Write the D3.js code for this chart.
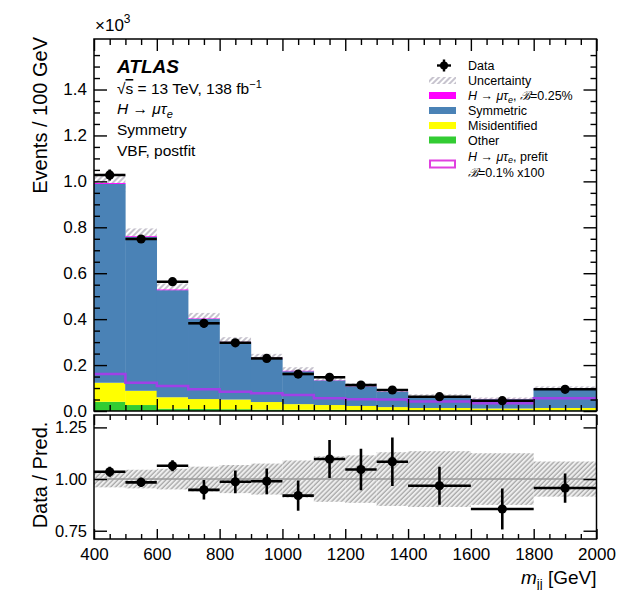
<!DOCTYPE html>
<html>
<head>
<meta charset="utf-8">
<script src="https://cdn.jsdelivr.net/npm/d3@7"></script>
<style>
  body { margin: 0; background: #fff; }
  svg { display: block; font-family: "Liberation Sans", Arial, Helvetica, sans-serif; }
</style>
</head>
<body>
<svg id="chart" width="630" height="590"></svg>
<script>
// m_jj binning (GeV); the last three bins are 200 GeV wide
const binEdges = [400, 500, 600, 700, 800, 900, 1000, 1100, 1200, 1300, 1400, 1600, 1800, 2000];

// Events / 100 GeV, in units of 10^3
const dataVal = [1.028, 0.749, 0.563, 0.382, 0.297, 0.229, 0.161, 0.147, 0.113, 0.0915, 0.0623, 0.0449, 0.0945];
const dataErr = [0.024, 0.0175, 0.0143, 0.019, 0.0166, 0.0144, 0.0128, 0.0123, 0.0108, 0.0099, 0.0059, 0.0052, 0.0070];

// Postfit background / signal stack (bottom to top)
const other      = [0.040, 0.026, 0.010, 0.009, 0.008, 0.006, 0.005, 0.005, 0.004, 0.004, 0.003, 0.003, 0.003];
const misid      = [0.083, 0.062, 0.050, 0.043, 0.042, 0.033, 0.025, 0.021, 0.018, 0.013, 0.010, 0.008, 0.010];
const symmetric  = [0.866, 0.670, 0.466, 0.349, 0.249, 0.1905, 0.143, 0.107, 0.085, 0.0664, 0.0504, 0.0405, 0.0848];
const signalPost = [0.004, 0.003, 0.003, 0.002, 0.002, 0.002, 0.002, 0.001, 0.001, 0.001, 0.001, 0.001, 0.001];

// Prefit signal, B = 0.1%, scaled by 100
const signalPrefit = [0.161, 0.123, 0.109, 0.0945, 0.084, 0.077, 0.070, 0.055, 0.051, 0.050, 0.041, 0.034, 0.055];

// Relative total uncertainty on the prediction
const relUnc = [0.040, 0.045, 0.050, 0.060, 0.068, 0.075, 0.090, 0.110, 0.115, 0.130, 0.135, 0.125, 0.085];

const xTickValues = [400, 600, 800, 1000, 1200, 1400, 1600, 1800, 2000];
const yMainTickValues = [0, 0.2, 0.4, 0.6, 0.8, 1.0, 1.2, 1.4];
const yRatioTickValues = [0.75, 1.0, 1.25];

const legendLabels = ["Data", "Uncertainty", "H → μτe, ℬ=0.25%", "Symmetric", "Misidentified", "Other", "H → μτe, prefit"];

const colors = { other: "#33cc33", misid: "#ffff00", symmetric: "#4a82b6", signal: "#ff00ff", prefit: "#a040e6" };

// ---------------------------------------------------------------
const svg = d3.select("#chart");
const L = 94, R = 596.5;
const mainTop = 39, mainBot = 411, ratTop = 415, ratBot = 539;

const x = d3.scaleLinear().domain([400, 2000]).range([L, R]);
const yM = d3.scaleLinear().domain([0, 1.62]).range([mainBot, mainTop]);
const yR = d3.scaleLinear().domain([0.71, 1.31]).range([ratBot, ratTop]);

const bins = dataVal.map((d, i) => {
  const pred = other[i] + misid[i] + symmetric[i] + signalPost[i];
  return {
    lo: binEdges[i], hi: binEdges[i + 1], mid: (binEdges[i] + binEdges[i + 1]) / 2,
    data: d, err: dataErr[i], pred, unc: relUnc[i],
    other: other[i], misid: misid[i], symmetric: symmetric[i], signal: signalPost[i]
  };
});

const defs = svg.append("defs");
defs.append("clipPath").attr("id", "clipMain").append("rect")
  .attr("x", L).attr("y", mainTop).attr("width", R - L).attr("height", mainBot - mainTop);
defs.append("clipPath").attr("id", "clipRatio").append("rect")
  .attr("x", L).attr("y", ratTop).attr("width", R - L).attr("height", ratBot - ratTop);

const hatchMain = defs.append("pattern").attr("id", "hatchMain")
  .attr("patternUnits", "userSpaceOnUse").attr("width", 4).attr("height", 4)
  .attr("patternTransform", "rotate(45)");
hatchMain.append("rect").attr("width", 4).attr("height", 4).attr("fill", "#fff");
hatchMain.append("line").attr("x1", 1).attr("y1", 0).attr("x2", 1).attr("y2", 4)
  .attr("stroke", "#a9a4b4").attr("stroke-width", 1.3);

const hatchRatio = defs.append("pattern").attr("id", "hatchRatio")
  .attr("patternUnits", "userSpaceOnUse").attr("width", 3.4).attr("height", 3.4)
  .attr("patternTransform", "rotate(45)");
hatchRatio.append("rect").attr("width", 3.4).attr("height", 3.4).attr("fill", "#eeeeee");
hatchRatio.append("line").attr("x1", 1).attr("y1", 0).attr("x2", 1).attr("y2", 3.4)
  .attr("stroke", "#9a9a9a").attr("stroke-width", 1.1);

// ---------------- main panel ----------------
const gMain = svg.append("g").attr("clip-path", "url(#clipMain)");

// uncertainty band (the stack covers its lower half)
gMain.selectAll("rect.band").data(bins).join("rect").attr("class", "band")
  .attr("x", d => x(d.lo)).attr("width", d => x(d.hi) - x(d.lo))
  .attr("y", d => yM(d.pred * (1 + d.unc)))
  .attr("height", d => yM(d.pred * (1 - d.unc)) - yM(d.pred * (1 + d.unc)))
  .attr("fill", "url(#hatchMain)");

const keys = ["other", "misid", "symmetric", "signal"];
const stacked = d3.stack().keys(keys)(bins);
gMain.selectAll("g.layer").data(stacked).join("g").attr("class", "layer")
  .attr("fill", s => colors[s.key])
  .selectAll("rect").data(s => s).join("rect")
  .attr("x", d => x(d.data.lo) - 0.2).attr("width", d => x(d.data.hi) - x(d.data.lo) + 0.4)
  .attr("y", d => yM(d[1])).attr("height", d => Math.max(0, yM(d[0]) - yM(d[1])));

// prefit signal x100 as an outline histogram
const prefitPts = signalPrefit.map((v, i) => [binEdges[i], v]);
prefitPts.push([binEdges[binEdges.length - 1], signalPrefit[signalPrefit.length - 1]]);
gMain.append("path").datum(prefitPts)
  .attr("d", d3.line().x(d => x(d[0])).y(d => yM(d[1])).curve(d3.curveStepAfter))
  .attr("fill", "none").attr("stroke", colors.prefit).attr("stroke-width", 2.5);

function drawPoints(g, yScale, valueOf, errOf) {
  const pts = g.append("g");
  pts.selectAll("line.h").data(bins).join("line").attr("class", "h")
    .attr("x1", d => x(d.lo)).attr("x2", d => x(d.hi))
    .attr("y1", d => yScale(valueOf(d))).attr("y2", d => yScale(valueOf(d)))
    .attr("stroke", "#000").attr("stroke-width", 2.6);
  pts.selectAll("line.v").data(bins).join("line").attr("class", "v")
    .attr("x1", d => x(d.mid)).attr("x2", d => x(d.mid))
    .attr("y1", d => yScale(valueOf(d) + errOf(d))).attr("y2", d => yScale(valueOf(d) - errOf(d)))
    .attr("stroke", "#000").attr("stroke-width", 2.6);
  pts.selectAll("circle").data(bins).join("circle")
    .attr("cx", d => x(d.mid)).attr("cy", d => yScale(valueOf(d))).attr("r", 4.6).attr("fill", "#000");
}
drawPoints(gMain, yM, d => d.data, d => d.err);

// ---------------- ratio panel ----------------
const gRat = svg.append("g").attr("clip-path", "url(#clipRatio)");
gRat.selectAll("rect.band").data(bins).join("rect").attr("class", "band")
  .attr("x", d => x(d.lo)).attr("width", d => x(d.hi) - x(d.lo))
  .attr("y", d => yR(1 + d.unc)).attr("height", d => yR(1 - d.unc) - yR(1 + d.unc))
  .attr("fill", "url(#hatchRatio)");
gRat.append("line").attr("x1", L).attr("x2", R).attr("y1", yR(1)).attr("y2", yR(1))
  .attr("stroke", "#999").attr("stroke-width", 1.6);
drawPoints(gRat, yR, d => d.data / d.pred, d => d.err / d.pred);

// ---------------- frames and axes ----------------
function frame(t, b) {
  svg.append("rect").attr("x", L).attr("y", t).attr("width", R - L).attr("height", b - t)
    .attr("fill", "none").attr("stroke", "#000").attr("stroke-width", 1.5);
}
frame(mainTop, mainBot);
frame(ratTop, ratBot);

const minorX = d3.range(400, 2001, 50).filter(v => v % 200 !== 0);
const minorYMain = d3.range(0, 32).map(i => i * 0.05).filter(v => v < 1.62 && Math.abs(v / 0.2 - Math.round(v / 0.2)) > 1e-6);

function styleAxis(g, fontSize) {
  g.select(".domain").remove();
  g.selectAll(".tick line").attr("stroke", "#000").attr("stroke-width", 1.4);
  g.selectAll(".tick text").attr("fill", "#000").attr("font-size", fontSize)
    .attr("font-family", "'Liberation Sans', Arial, sans-serif");
}
function addAxis(axis, tx, ty, fontSize) {
  const g = svg.append("g").attr("transform", `translate(${tx},${ty})`).call(axis);
  styleAxis(g, fontSize || 17);
  return g;
}

// main panel x ticks (bottom and top, no labels)
addAxis(d3.axisBottom(x).tickValues(xTickValues).tickSize(-12).tickFormat(""), 0, mainBot);
addAxis(d3.axisBottom(x).tickValues(minorX).tickSize(-6).tickFormat(""), 0, mainBot);
addAxis(d3.axisTop(x).tickValues(xTickValues).tickSize(-12).tickFormat(""), 0, mainTop);
addAxis(d3.axisTop(x).tickValues(minorX).tickSize(-6).tickFormat(""), 0, mainTop);
// main panel y ticks
addAxis(d3.axisLeft(yM).tickValues(yMainTickValues).tickSize(-13).tickPadding(7).tickFormat(d3.format(".1f")), L, 0);
addAxis(d3.axisLeft(yM).tickValues(minorYMain).tickSize(-6).tickFormat(""), L, 0);
addAxis(d3.axisRight(yM).tickValues(yMainTickValues).tickSize(-13).tickFormat(""), R, 0);
addAxis(d3.axisRight(yM).tickValues(minorYMain).tickSize(-6).tickFormat(""), R, 0);

// ratio panel ticks
addAxis(d3.axisBottom(x).tickValues(xTickValues).tickSize(-10).tickPadding(9).tickFormat(d3.format("d")), 0, ratBot);
addAxis(d3.axisBottom(x).tickValues(minorX).tickSize(-5).tickFormat(""), 0, ratBot);
addAxis(d3.axisTop(x).tickValues(xTickValues).tickSize(-10).tickFormat(""), 0, ratTop);
addAxis(d3.axisTop(x).tickValues(minorX).tickSize(-5).tickFormat(""), 0, ratTop);
addAxis(d3.axisLeft(yR).tickValues(yRatioTickValues).tickSize(-13).tickPadding(7).tickFormat(d3.format(".2f")), L, 0, 16.5);
addAxis(d3.axisRight(yR).tickValues(yRatioTickValues).tickSize(-13).tickFormat(""), R, 0);

// ---------------- axis titles ----------------
const font = "'Liberation Sans', Arial, sans-serif";
svg.append("text").attr("transform", `translate(47,${mainTop - 2}) rotate(-90)`)
  .attr("text-anchor", "end").attr("font-size", 20).attr("font-family", font)
  .text("Events / 100 GeV");
svg.append("text").attr("transform", `translate(47,475) rotate(-90)`)
  .attr("text-anchor", "middle").attr("font-size", 20).attr("font-family", font)
  .text("Data / Pred.");

const xt = svg.append("text").attr("x", R).attr("y", 584).attr("text-anchor", "end")
  .attr("font-size", 19).attr("font-family", font);
xt.append("tspan").attr("font-style", "italic").text("m");
xt.append("tspan").attr("font-size", 13).attr("dy", 4).text("jj");
xt.append("tspan").attr("dy", -4).text(" [GeV]");

const sc = svg.append("text").attr("x", 95).attr("y", 31).attr("font-size", 17).attr("font-family", font);
sc.append("tspan").text("×10");
sc.append("tspan").attr("font-size", 12).attr("dy", -8).text("3");

// ---------------- labels ----------------
const tx0 = 117;
svg.append("text").attr("x", tx0).attr("y", 73).attr("font-size", 19)
  .attr("font-weight", "bold").attr("font-style", "italic").attr("font-family", font).text("ATLAS");

const l1 = svg.append("text").attr("x", tx0).attr("y", 94).attr("font-size", 15.5).attr("font-family", font);
l1.append("tspan").text("√");
l1.append("tspan").attr("text-decoration", "overline").style("text-decoration", "overline").text("s");
l1.append("tspan").text(" = 13 TeV, 138 fb");
l1.append("tspan").attr("font-size", 11).attr("dy", -6).text("−1");

const l2 = svg.append("text").attr("x", tx0).attr("y", 114).attr("font-size", 15.5).attr("font-family", font);
l2.append("tspan").attr("font-style", "italic").text("H");
l2.append("tspan").text(" → ");
l2.append("tspan").attr("font-style", "italic").text("μτ");
l2.append("tspan").attr("font-style", "italic").attr("font-size", 11).attr("dy", 4).text("e");

svg.append("text").attr("x", tx0).attr("y", 135).attr("font-size", 15.5).attr("font-family", font).text("Symmetry");
svg.append("text").attr("x", tx0).attr("y", 156).attr("font-size", 15.5).attr("font-family", font).text("VBF, postfit");

// ---------------- legend ----------------
const lg = svg.append("g").attr("font-family", font).attr("font-size", 12.5);
const bx = 429, bw = 27, bh = 7, lx = 468;
const rowY = [65.5, 80.5, 95.5, 110.5, 125.5, 140, 156];

// Data
lg.append("line").attr("x1", 437).attr("x2", 451).attr("y1", rowY[0]).attr("y2", rowY[0]).attr("stroke", "#000").attr("stroke-width", 2.4);
lg.append("line").attr("x1", 444).attr("x2", 444).attr("y1", rowY[0] - 6).attr("y2", rowY[0] + 6).attr("stroke", "#000").attr("stroke-width", 2.4);
lg.append("circle").attr("cx", 444).attr("cy", rowY[0]).attr("r", 4).attr("fill", "#000");
// boxes
lg.append("rect").attr("x", bx).attr("y", rowY[1] - bh / 2).attr("width", bw).attr("height", bh).attr("fill", "url(#hatchMain)");
[[2, colors.signal], [3, colors.symmetric], [4, colors.misid], [5, colors.other]].forEach(([r, c]) => {
  lg.append("rect").attr("x", bx).attr("y", rowY[r] - bh / 2).attr("width", bw).attr("height", bh).attr("fill", c);
});
lg.append("rect").attr("x", bx + 1).attr("y", 160.5).attr("width", bw - 2).attr("height", 7)
  .attr("fill", "#fff").attr("stroke", "#e040e0").attr("stroke-width", 2);

function legendText(y, parts) {
  const t = lg.append("text").attr("x", lx).attr("y", y + 4.5);
  parts.forEach(p => {
    const s = t.append("tspan").text(p.t);
    if (p.i) s.attr("font-style", "italic");
    if (p.sub) s.attr("font-size", 9).attr("dy", 2.5);
    if (p.up) s.attr("dy", -2.5);
  });
}
legendText(rowY[0], [{ t: legendLabels[0] }]);
legendText(rowY[1], [{ t: legendLabels[1] }]);
legendText(rowY[2], [{ t: "H", i: 1 }, { t: " → " }, { t: "μτ", i: 1 }, { t: "e", i: 1, sub: 1 }, { t: ", ", up: 1 }, { t: "ℬ", i: 1 }, { t: "=0.25%" }]);
legendText(rowY[3], [{ t: legendLabels[3] }]);
legendText(rowY[4], [{ t: legendLabels[4] }]);
legendText(rowY[5], [{ t: legendLabels[5] }]);
legendText(rowY[6], [{ t: "H", i: 1 }, { t: " → " }, { t: "μτ", i: 1 }, { t: "e", i: 1, sub: 1 }, { t: ", prefit", up: 1 }]);
legendText(172, [{ t: "ℬ", i: 1 }, { t: "=0.1% x100" }]);
</script>
</body>
</html>
